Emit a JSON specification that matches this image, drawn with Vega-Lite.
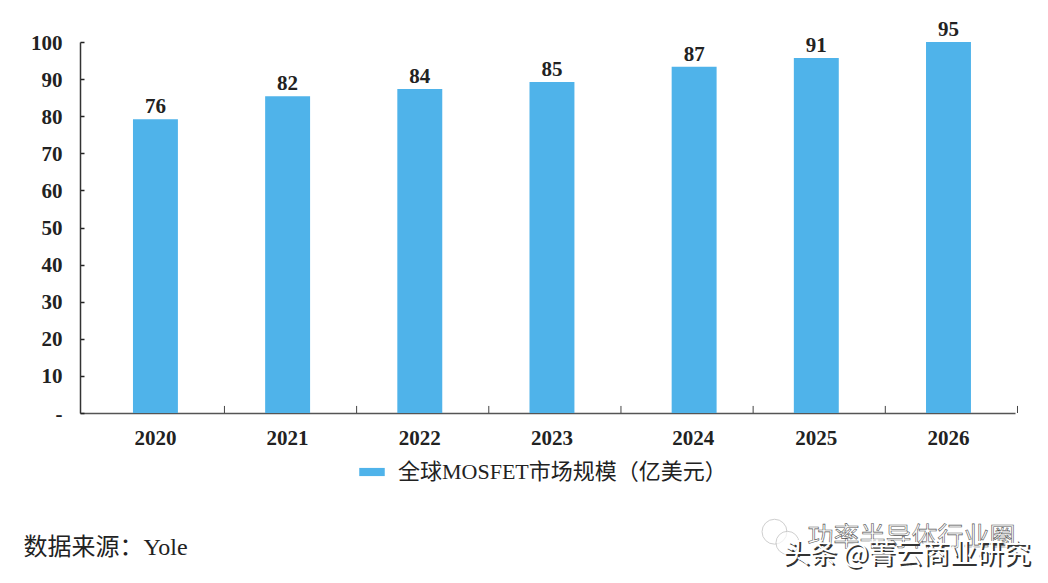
{
"$schema":"https://vega.github.io/schema/vega-lite/v6.json",
"width":935,"height":371,
"autosize":{"type":"none"},
"padding":{"left":80,"top":42,"right":33,"bottom":170},
"background":"white",
"config":{"view":{"stroke":null},"font":"Liberation Serif"},
"data":{"values":[
{"year":"2020","height":79.2,"label":"76","series":"全球MOSFET市场规模（亿美元）"},
{"year":"2021","height":85.4,"label":"82","series":"全球MOSFET市场规模（亿美元）"},
{"year":"2022","height":87.3,"label":"84","series":"全球MOSFET市场规模（亿美元）"},
{"year":"2023","height":89.2,"label":"85","series":"全球MOSFET市场规模（亿美元）"},
{"year":"2024","height":93.3,"label":"87","series":"全球MOSFET市场规模（亿美元）"},
{"year":"2025","height":95.7,"label":"91","series":"全球MOSFET市场规模（亿美元）"},
{"year":"2026","height":100,"label":"95","series":"全球MOSFET市场规模（亿美元）"}
]},
"encoding":{
"x":{"field":"year","type":"nominal","sort":null,
 "scale":{"domain":["2020","2021","2022","2023","2024","2025","2026"],"paddingInner":0.66,"paddingOuter":0.367,"align":0.546},
 "axis":{"title":null,"labels":false,"ticks":false,"domainColor":"#555","domainWidth":1.5}},
"y":{"field":"height","type":"quantitative",
 "scale":{"domain":[0,100],"nice":false},
 "axis":{"title":null,"values":[0,10,20,30,40,50,60,70,80,90,100],"grid":false,"labelFontSize":21,"labelFontWeight":"bold","labelColor":"#222","labelFont":"Liberation Serif","labelPadding":22,"labelOffset":1,"tickSize":-4,"tickColor":"#222","tickWidth":1.5,"domainColor":"#333","domainWidth":1.5,"labelExpr":"datum.value===0?'-':datum.label"}}
},
"layer":[
{"mark":{"type":"rule","color":"#444","strokeWidth":1,"xOffset":69},
 "encoding":{"y":{"datum":0},"y2":{"datum":1.9}}},
{"transform":[{"filter":"datum.year!=='2024'"}],
 "mark":{"type":"bar","stroke":null},
 "encoding":{"color":{"field":"series","type":"nominal","scale":{"range":["#4FB3EA"]},
  "legend":{"orient":"none","legendX":279,"legendY":417,"title":null,"labelFontSize":22,"labelLimit":0,"labelFont":"Liberation Serif, Noto Sans CJK SC","labelColor":"#222","symbolType":"M-1,-0.32H1V0.32H-1Z","symbolSize":650,"symbolStrokeWidth":0,"labelOffset":13}}}},
{"transform":[{"filter":"datum.year==='2024'"}],
 "mark":{"type":"bar","stroke":null,"xOffset":10},
 "encoding":{"color":{"field":"series","type":"nominal"}}},
{"transform":[{"filter":"datum.year!=='2024'"}],
 "mark":{"type":"text","fontSize":21,"fontWeight":"bold","color":"#222","dy":-12,"font":"Liberation Serif"},
 "encoding":{"text":{"field":"label"}}},
{"transform":[{"filter":"datum.year==='2024'"}],
 "mark":{"type":"text","fontSize":21,"fontWeight":"bold","color":"#222","dy":-12,"xOffset":10,"font":"Liberation Serif"},
 "encoding":{"text":{"field":"label"}}},
{"transform":[{"filter":"datum.year!=='2024'"}],
 "mark":{"type":"text","fontSize":21,"fontWeight":"bold","color":"#222","font":"Liberation Serif"},
 "encoding":{"y":{"datum":-7},"text":{"field":"year"}}},
{"transform":[{"filter":"datum.year==='2024'"}],
 "mark":{"type":"text","fontSize":21,"fontWeight":"bold","color":"#222","xOffset":9,"font":"Liberation Serif"},
 "encoding":{"y":{"datum":-7},"text":{"field":"year"}}},
{"data":{"values":[{"year":"2020","level":-36.3,"note":"数据来源：Yole"}]},
 "mark":{"type":"text","fontSize":24,"align":"left","font":"Liberation Serif, Noto Sans CJK SC","color":"#222","xOffset":-132},
 "encoding":{"x":{"field":"year","type":"nominal"},"y":{"field":"level","type":"quantitative"},"text":{"field":"note"}}},
{"data":{"values":[{"year":"2026","level":-32}]},
 "mark":{"type":"point","shape":"circle","size":620,"fill":"white","stroke":"#bbb","strokeWidth":1,"filled":false,"xOffset":-174},
 "encoding":{"x":{"field":"year","type":"nominal"},"y":{"field":"level","type":"quantitative"}}},
{"data":{"values":[{"year":"2026","level":-35}]},
 "mark":{"type":"point","shape":"circle","size":530,"fill":"white","stroke":"#bbb","strokeWidth":1,"filled":false,"xOffset":-161},
 "encoding":{"x":{"field":"year","type":"nominal"},"y":{"field":"level","type":"quantitative"}}},
{"data":{"values":[{"year":"2026","level":-33.8,"note":"功率半导体行业圈"}]},
 "mark":{"type":"text","fontSize":26,"font":"Noto Sans CJK SC","fill":"white","stroke":"#555","strokeWidth":0.6,"xOffset":-37},
 "encoding":{"x":{"field":"year","type":"nominal"},"y":{"field":"level","type":"quantitative"},"text":{"field":"note"}}},
{"data":{"values":[{"year":"2026","level":-38.4,"note":"头条 @菁云商业研究"}]},
 "mark":{"type":"text","fontSize":27,"font":"Noto Sans CJK SC","fill":"#333","xOffset":-40,"yOffset":1.5},
 "encoding":{"x":{"field":"year","type":"nominal"},"y":{"field":"level","type":"quantitative"},"text":{"field":"note"}}},
{"data":{"values":[{"year":"2026","level":-38.4,"note":"头条 @菁云商业研究"}]},
 "mark":{"type":"text","fontSize":27,"font":"Noto Sans CJK SC","fill":"white","xOffset":-42},
 "encoding":{"x":{"field":"year","type":"nominal"},"y":{"field":"level","type":"quantitative"},"text":{"field":"note"}}}
]
}
